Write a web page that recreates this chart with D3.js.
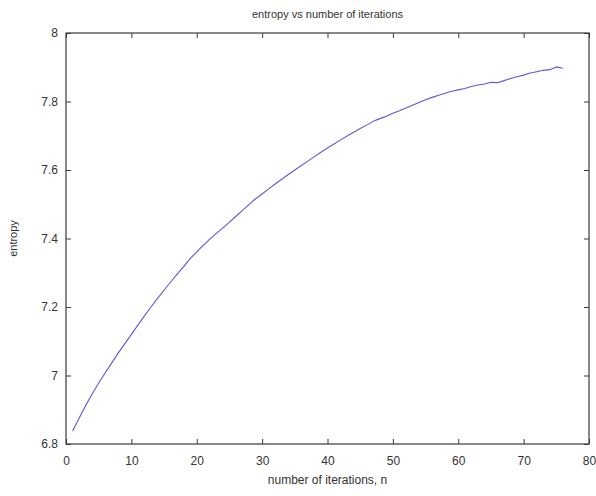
<!DOCTYPE html>
<html>
<head>
<meta charset="utf-8">
<script src="https://cdn.jsdelivr.net/npm/d3@7"></script>
<style>
  html, body { margin: 0; padding: 0; background: #fff; }
  svg { display: block; font-family: "Liberation Sans", Arial, sans-serif; }
</style>
</head>
<body>
<svg id="chart" width="596" height="496"></svg>
<script>
// Entropy measured after each iteration
const iterations = d3.range(1, 77);
const entropy = [
  6.838, 6.875, 6.912, 6.946, 6.978, 7.008, 7.037, 7.066, 7.093, 7.120,
  7.147, 7.174, 7.200, 7.225, 7.249, 7.273, 7.296, 7.318, 7.341, 7.361,
  7.380, 7.398, 7.415, 7.431, 7.448, 7.465, 7.482, 7.499, 7.516, 7.530,
  7.545, 7.559, 7.573, 7.587, 7.600, 7.613, 7.626, 7.639, 7.652, 7.664,
  7.676, 7.688, 7.699, 7.710, 7.721, 7.731, 7.742, 7.750, 7.757, 7.766,
  7.773, 7.781, 7.789, 7.797, 7.805, 7.812, 7.818, 7.824, 7.830, 7.834,
  7.838, 7.844, 7.848, 7.851, 7.856, 7.855, 7.861, 7.867, 7.872, 7.877,
  7.883, 7.887, 7.891, 7.893, 7.901, 7.897
];
const xTicks = [0, 10, 20, 30, 40, 50, 60, 70, 80];
const yTicks = [6.8, 7, 7.2, 7.4, 7.6, 7.8, 8];

const chartTitle = "entropy vs number of iterations";
const xTitle = "number of iterations, n";
const yTitle = "entropy";

const margin = { left: 66, right: 7, top: 33, bottom: 52 };
const W = 596, H = 496;
const svg = d3.select("#chart");

const x = d3.scaleLinear().domain([0, 80]).range([margin.left, W - margin.right]);
const y = d3.scaleLinear().domain([6.8, 8]).range([H - margin.bottom, margin.top]);

const axisColor = "#3a3a3a";
const textColor = "#333";
const tickLen = 5;

function styleAxis(g, showLabels) {
  g.select(".domain").remove();
  g.selectAll(".tick line").attr("stroke", axisColor);
  g.selectAll(".tick text")
    .attr("fill", textColor)
    .style("font-size", "12px")
    .style("display", showLabels ? null : "none");
}

// bottom & left axes with labels, ticks pointing inward
svg.append("g")
  .attr("transform", `translate(0,${y(6.8)})`)
  .call(d3.axisBottom(x).tickValues(xTicks).tickFormat(d3.format("d"))
    .tickSizeInner(-tickLen).tickSizeOuter(0).tickPadding(12))
  .call(g => styleAxis(g, true));

svg.append("g")
  .attr("transform", `translate(${x(0)},0)`)
  .call(d3.axisLeft(y).tickValues(yTicks).tickFormat(d => d3.format("")(+d.toFixed(1)))
    .tickSizeInner(-tickLen).tickSizeOuter(0).tickPadding(8))
  .call(g => styleAxis(g, true));

// mirrored top & right ticks
svg.append("g")
  .attr("transform", `translate(0,${y(8)})`)
  .call(d3.axisTop(x).tickValues(xTicks).tickSizeInner(-tickLen).tickSizeOuter(0))
  .call(g => styleAxis(g, false));

svg.append("g")
  .attr("transform", `translate(${x(80)},0)`)
  .call(d3.axisRight(y).tickValues(yTicks).tickSizeInner(-tickLen).tickSizeOuter(0))
  .call(g => styleAxis(g, false));

// plot box
svg.append("rect")
  .attr("x", x(0)).attr("y", y(8))
  .attr("width", x(80) - x(0)).attr("height", y(6.8) - y(8))
  .attr("fill", "none").attr("stroke", axisColor).attr("stroke-width", 1.2);

// entropy curve
const line = d3.line()
  .x((d, i) => x(iterations[i]))
  .y(d => y(d));

svg.append("path")
  .datum(entropy)
  .attr("d", line)
  .attr("fill", "none")
  .attr("stroke", "#5a5ad8")
  .attr("stroke-width", 1.1)
  .attr("stroke-linejoin", "round");

// titles
svg.append("text")
  .attr("x", (x(0) + x(80)) / 2).attr("y", 18)
  .attr("text-anchor", "middle").attr("fill", textColor)
  .style("font-size", "11px")
  .text(chartTitle);

svg.append("text")
  .attr("x", (x(0) + x(80)) / 2).attr("y", 484)
  .attr("text-anchor", "middle").attr("fill", textColor)
  .style("font-size", "12px")
  .text(xTitle);

svg.append("text")
  .attr("transform", `translate(17,${(y(6.8) + y(8)) / 2}) rotate(-90)`)
  .attr("text-anchor", "middle").attr("fill", textColor)
  .style("font-size", "11px")
  .text(yTitle);
</script>
</body>
</html>
